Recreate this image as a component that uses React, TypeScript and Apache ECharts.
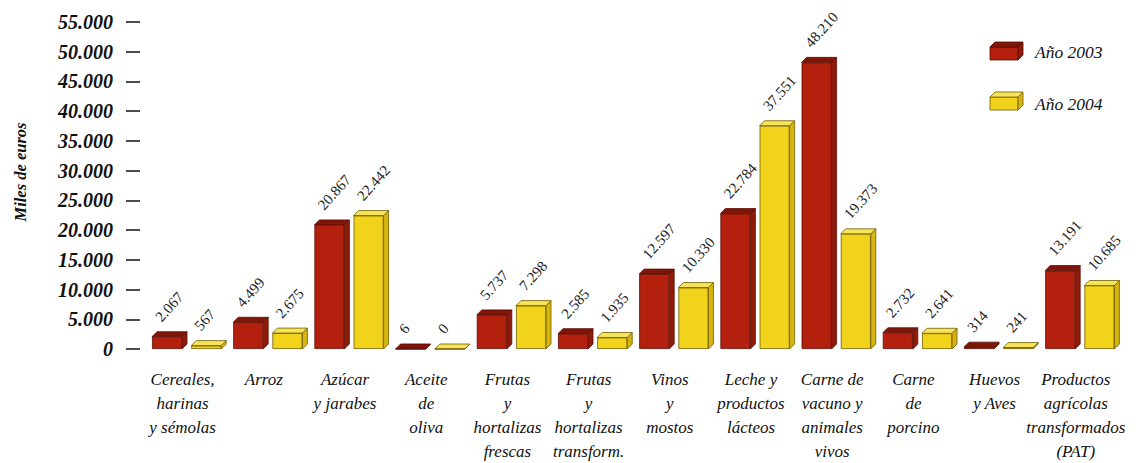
import React, { useEffect, useRef } from "react";
import * as echarts from "echarts";

const categories = [
  "Cereales,\nharinas\ny sémolas",
  "Arroz",
  "Azúcar\ny jarabes",
  "Aceite\nde\noliva",
  "Frutas\ny\nhortalizas\nfrescas",
  "Frutas\ny\nhortalizas\ntransform.",
  "Vinos\ny\nmostos",
  "Leche y\nproductos\nlácteos",
  "Carne de\nvacuno y\nanimales\nvivos",
  "Carne\nde\nporcino",
  "Huevos\ny Aves",
  "Productos\nagrícolas\ntransformados\n(PAT)",
];
const values2003 = [2067, 4499, 20867, 6, 5737, 2585, 12597, 22784, 48210, 2732, 314, 13191];
const values2004 = [567, 2675, 22442, 0, 7298, 1935, 10330, 37551, 19373, 2641, 241, 10685];
const seriesNames = ["Año 2003", "Año 2004"];
const yMin = 0;
const yMax = 55000;
const yInterval = 5000;

const fmt = (v: number) => String(v).replace(/\B(?=(\d{3})+(?!\d))/g, ".");

const palettes = [
  { front: "#b3200d", top: "#7f1608", side: "#8e1a0a", stroke: "#5c0e05" },
  { front: "#f2d31c", top: "#f8e45a", side: "#d6b510", stroke: "#6e5c00" },
];

export default function App() {
  const ref = useRef<HTMLDivElement>(null);
  useEffect(() => {
    if (!ref.current) return;
    const chart = echarts.init(ref.current, null, { renderer: "svg" });
    const W = 30;
    const D = 5;
    const makeRender = (si: number) => (params: any, api: any) => {
      const cat = api.value(0);
      const val = api.value(1);
      const p = api.coord([cat, val]);
      const p0 = api.coord([cat, 0]);
      const off = (si === 0 ? -1 : 1) * (W + 9.2) / 2;
      const cx = p[0] + off;
      const x0 = cx - W / 2;
      const yT = p[1];
      const yB = p0[1];
      const pal = palettes[si];
      return {
        type: "group",
        children: [
          {
            type: "polygon",
            shape: { points: [[x0 + W, yT], [x0 + W + D, yT - D], [x0 + W + D, yB - D], [x0 + W, yB]] },
            style: { fill: pal.side, stroke: pal.stroke, lineWidth: 0.8 },
          },
          {
            type: "polygon",
            shape: { points: [[x0, yT], [x0 + D, yT - D], [x0 + W + D, yT - D], [x0 + W, yT]] },
            style: { fill: pal.top, stroke: pal.stroke, lineWidth: 0.8 },
          },
        ],
      };
    };

    const legendBox = (x: number, y: number, pal: any) => [
      { type: "rect", shape: { x, y: y + 5, width: 28, height: 13 }, style: { fill: pal.front, stroke: pal.stroke, lineWidth: 0.8 } },
      { type: "polygon", shape: { points: [[x + 28, y + 5], [x + 33, y], [x + 33, y + 13], [x + 28, y + 18]] }, style: { fill: pal.side, stroke: pal.stroke, lineWidth: 0.8 } },
      { type: "polygon", shape: { points: [[x, y + 5], [x + 5, y], [x + 33, y], [x + 28, y + 5]] }, style: { fill: pal.top, stroke: pal.stroke, lineWidth: 0.8 } },
    ];

    const barSeries = (si: number, data: number[]) => ({
      type: "bar",
      name: seriesNames[si],
      data,
      barWidth: W,
      barGap: ((9.2 / W) * 100).toFixed(1) + "%",
      itemStyle: { color: palettes[si].front, borderColor: palettes[si].stroke, borderWidth: 0.8 },
      label: {
        show: true,
        position: "top",
        distance: 16,
        offset: [-5, 0],
        rotate: 48,
        align: "left",
        verticalAlign: "bottom",
        color: "#222",
        fontFamily: "Liberation Serif",
        fontSize: 15,
        formatter: (p: any) => fmt(p.value),
      },
      z: 2,
    });

    chart.setOption({
      animation: false,
      backgroundColor: "#ffffff",
      grid: { left: 146, right: 19.6, top: 22, bottom: 111 },
      xAxis: {
        type: "category",
        data: categories,
        axisLine: { show: false },
        axisTick: { show: false },
        axisLabel: {
          interval: 0,
          margin: 18,
          color: "#111",
          fontFamily: "Liberation Serif",
          fontStyle: "italic",
          fontSize: 17,
          lineHeight: 24,
          padding: [0, 8, 0, 0],
        },
      },
      yAxis: {
        type: "value",
        min: yMin,
        max: yMax,
        interval: yInterval,
        offset: 6,
        axisLine: { show: false },
        axisTick: { show: true, length: 14, lineStyle: { color: "#111", width: 1.5 } },
        splitLine: { show: false },
        axisLabel: {
          margin: 27,
          color: "#111",
          fontFamily: "Liberation Serif",
          fontStyle: "italic",
          fontWeight: "bold",
          fontSize: 20,
          formatter: (v: number) => fmt(v),
        },
      },
      graphic: [
        {
          type: "text",
          x: 20,
          y: 172,
          rotation: Math.PI / 2,
          style: {
            text: "Miles de euros",
            fill: "#111",
            font: "italic bold 16.5px 'Liberation Serif'",
            align: "center",
            verticalAlign: "middle",
          },
        },
        ...legendBox(990, 42, palettes[0]),
        ...legendBox(990, 92, palettes[1]),
        {
          type: "text",
          x: 1035,
          y: 52,
          style: { text: seriesNames[0], fill: "#111", font: "italic 17.5px 'Liberation Serif'", align: "left", verticalAlign: "middle" },
        },
        {
          type: "text",
          x: 1035,
          y: 104,
          style: { text: seriesNames[1], fill: "#111", font: "italic 17.5px 'Liberation Serif'", align: "left", verticalAlign: "middle" },
        },
      ],
      series: [
        barSeries(0, values2003),
        barSeries(1, values2004),
        {
          type: "custom",
          name: seriesNames[0] + " 3D",
          renderItem: makeRender(0),
          encode: { x: 0, y: 1 },
          data: values2003.map((v, i) => [i, v]),
          z: 1,
          silent: true,
        },
        {
          type: "custom",
          name: seriesNames[1] + " 3D",
          renderItem: makeRender(1),
          encode: { x: 0, y: 1 },
          data: values2004.map((v, i) => [i, v]),
          z: 1,
          silent: true,
        },
      ],
    });
    return () => chart.dispose();
  }, []);
  return (
    <div
      ref={ref}
      style={{ position: "fixed", left: 0, top: 0, width: 1140, height: 463 }}
    />
  );
}
